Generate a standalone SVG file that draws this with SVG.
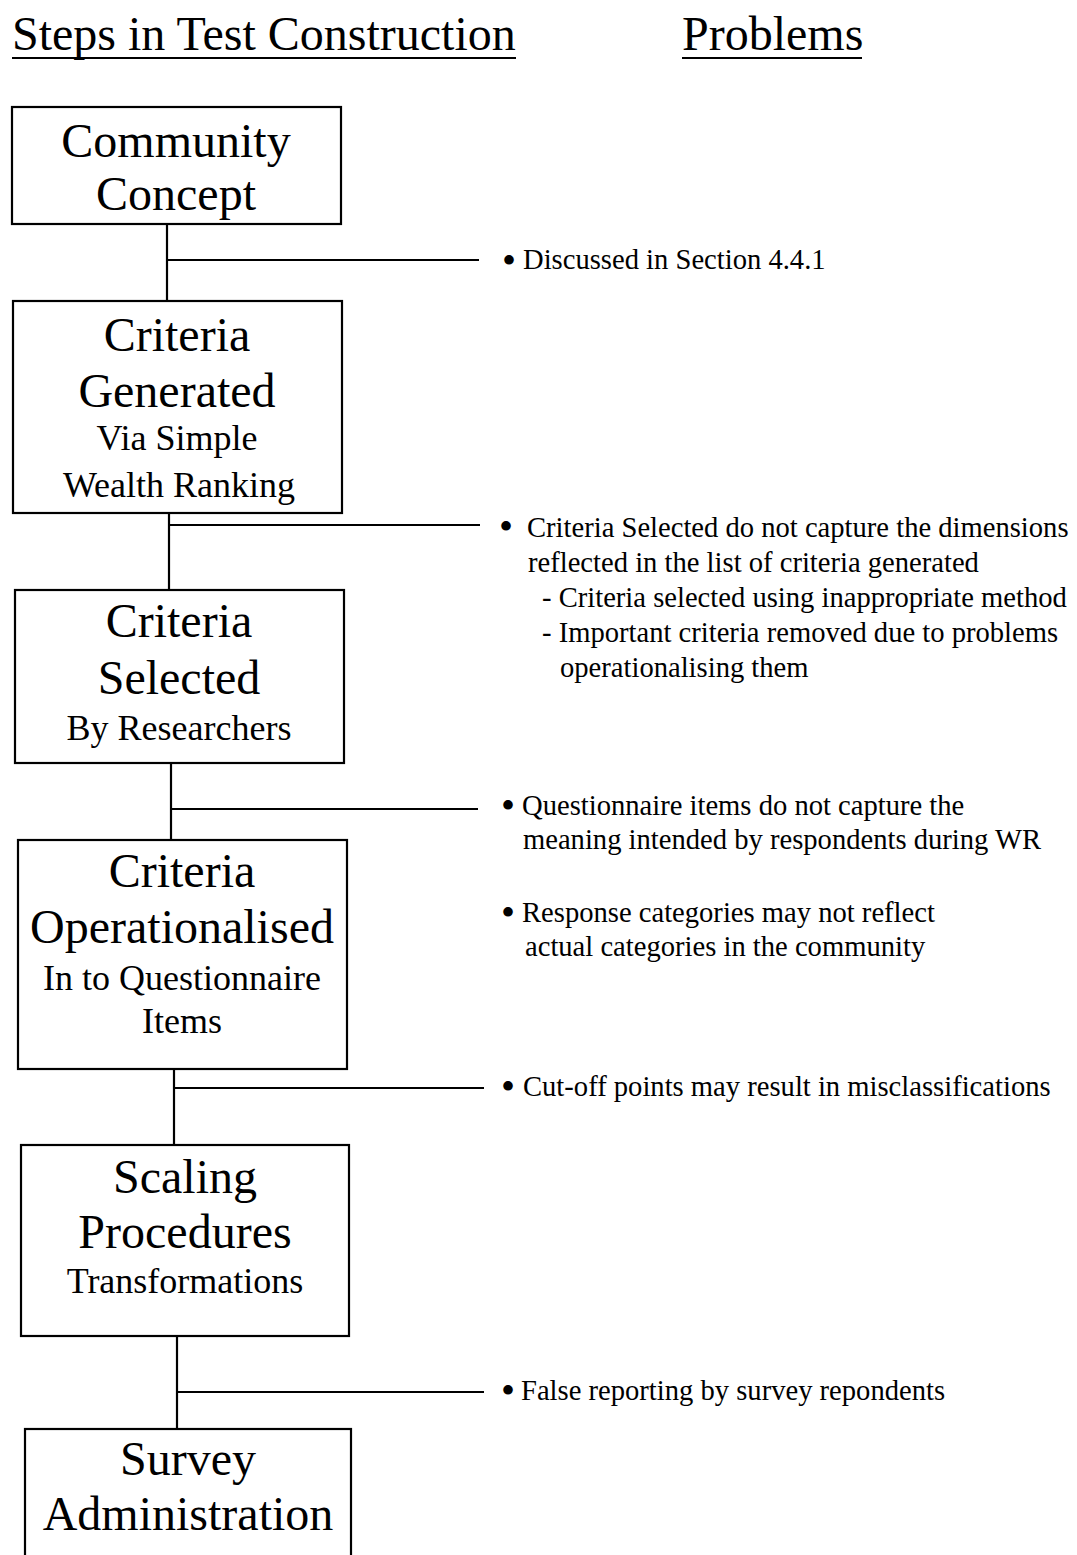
<svg xmlns="http://www.w3.org/2000/svg" width="1077" height="1555" viewBox="0 0 1077 1555">
<style>
text{font-family:"Liberation Serif","Times New Roman",serif;fill:#000}
.title{font-size:48px}
.big{font-size:48px;text-anchor:middle}
.small{font-size:36px;text-anchor:middle}
.note{font-size:28.6px}
.bul{font-size:40px;text-anchor:middle}
.box{fill:#fff;stroke:#000;stroke-width:2.2}
.conn line{stroke:#000;stroke-width:2.2}
</style>
<rect width="1077" height="1555" fill="#fff"/>
<g id="titles">
<text class="title" x="12" y="50">Steps in Test Construction</text>
<line x1="12" y1="58" x2="516" y2="58" stroke="#000" stroke-width="2"/>
<text class="title" x="682" y="50">Problems</text>
<line x1="682" y1="58" x2="862" y2="58" stroke="#000" stroke-width="2"/>
</g>
<g id="connectors" class="conn">
<line x1="167" y1="224" x2="167" y2="300"/>
<line x1="167" y1="260" x2="479" y2="260"/>
<line x1="169" y1="513" x2="169" y2="590"/>
<line x1="169" y1="525" x2="480" y2="525"/>
<line x1="171" y1="763" x2="171" y2="840"/>
<line x1="171" y1="809" x2="478" y2="809"/>
<line x1="174" y1="1069" x2="174" y2="1145"/>
<line x1="174" y1="1088" x2="484" y2="1088"/>
<line x1="177" y1="1336" x2="177" y2="1429"/>
<line x1="177" y1="1392" x2="484" y2="1392"/>
</g>
<g id="node-community">
<rect class="box" x="12" y="107" width="329" height="117"/>
<text class="big" x="176" y="157">Community</text>
<text class="big" x="176" y="210">Concept</text>
</g>
<g id="node-generated">
<rect class="box" x="13" y="301" width="329" height="212"/>
<text class="big" x="177" y="351">Criteria</text>
<text class="big" x="177" y="407">Generated</text>
<text class="small" x="177" y="450">Via Simple</text>
<text class="small" x="179" y="497">Wealth Ranking</text>
</g>
<g id="node-selected">
<rect class="box" x="15" y="590" width="329" height="173"/>
<text class="big" x="179" y="637">Criteria</text>
<text class="big" x="179" y="694">Selected</text>
<text class="small" x="179" y="740">By Researchers</text>
</g>
<g id="node-operationalised">
<rect class="box" x="18" y="840" width="329" height="229"/>
<text class="big" x="182" y="887">Criteria</text>
<text class="big" x="182" y="943">Operationalised</text>
<text class="small" x="182" y="990">In to Questionnaire</text>
<text class="small" x="182" y="1033">Items</text>
</g>
<g id="node-scaling">
<rect class="box" x="21" y="1145" width="328" height="191"/>
<text class="big" x="185" y="1193">Scaling</text>
<text class="big" x="185" y="1248">Procedures</text>
<text class="small" x="185" y="1293">Transformations</text>
</g>
<g id="node-survey">
<rect class="box" x="25" y="1429" width="326" height="140"/>
<text class="big" x="188" y="1475">Survey</text>
<text class="big" x="188" y="1530">Administration</text>
</g>
<g id="problems">
<text class="bul" x="509" y="274">•</text>
<text class="note" x="523" y="269">Discussed in Section 4.4.1</text>
<text class="bul" x="506" y="540">•</text>
<text class="note" x="527" y="537">Criteria Selected do not capture the dimensions</text>
<text class="note" x="528" y="572">reflected in the list of criteria generated</text>
<text class="note" x="542" y="607">- Criteria selected using inappropriate method</text>
<text class="note" x="542" y="642">- Important criteria removed due to problems</text>
<text class="note" x="560" y="677">operationalising them</text>
<text class="bul" x="508" y="819">•</text>
<text class="note" x="522" y="815">Questionnaire items do not capture the</text>
<text class="note" x="523" y="849">meaning intended by respondents during WR</text>
<text class="bul" x="508" y="926">•</text>
<text class="note" x="522" y="922">Response categories may not reflect</text>
<text class="note" x="525" y="956">actual categories in the community</text>
<text class="bul" x="508" y="1100">•</text>
<text class="note" x="523" y="1096">Cut-off points may result in misclassifications</text>
<text class="bul" x="508" y="1404">•</text>
<text class="note" x="521" y="1400">False reporting by survey repondents</text>
</g>
</svg>
